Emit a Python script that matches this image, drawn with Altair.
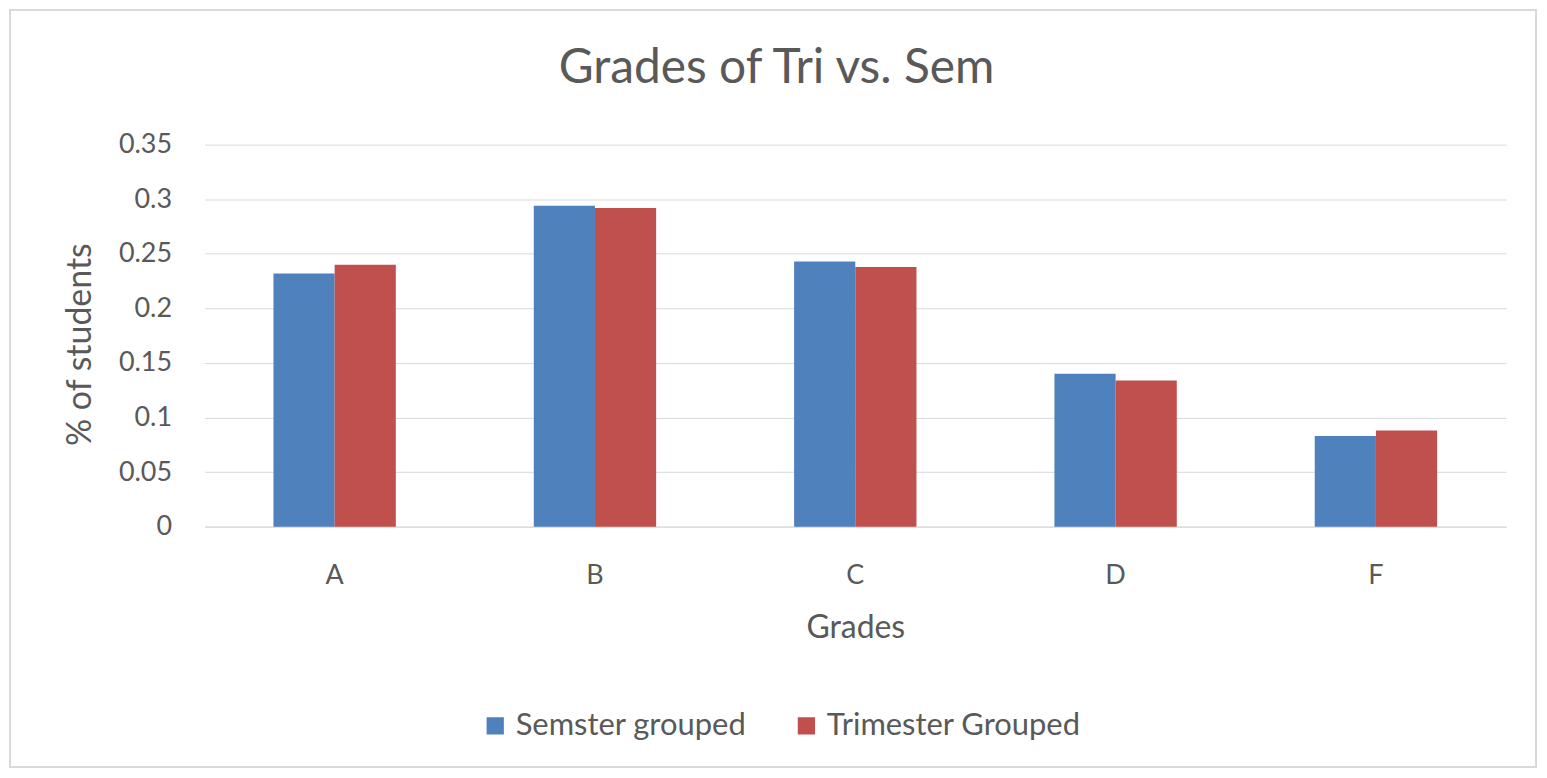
import altair as alt
import pandas as pd

grades = ["A", "B", "C", "D", "F"]
series_names = ["Semster grouped", "Trimester Grouped"]
semester = [0.232, 0.294, 0.243, 0.140, 0.083]
trimester = [0.240, 0.292, 0.238, 0.134, 0.088]
y_ticks = [0, 0.05, 0.1, 0.15, 0.2, 0.25, 0.3, 0.35]
colors = ["#4F81BD", "#C0504D"]

rows = []
for g, s, t in zip(grades, semester, trimester):
    rows.append({"Grade": g, "Series": series_names[0], "Value": s})
    rows.append({"Grade": g, "Series": series_names[1], "Value": t})
df = pd.DataFrame(rows)

W, H = 1305, 383
FONT = "Lato"
TXT = "#595959"

bars = alt.Chart(df).mark_bar().encode(
    x=alt.X("Grade:N", sort=grades,
            scale=alt.Scale(paddingInner=0.53, paddingOuter=0.265),
            axis=alt.Axis(title="Grades", labelAngle=0, ticks=False,
                          domainColor="#D9D9D9", labelPadding=36,
                          labelFontSize=27, labelColor=TXT,
                          titleFontSize=32, titleColor=TXT, titleFontWeight="normal",
                          titleY=101, titleBaseline="middle")),
    xOffset=alt.XOffset("Series:N", sort=series_names),
    y=alt.Y("Value:Q", scale=alt.Scale(domain=[0, 0.35]),
            axis=alt.Axis(title="% of students", values=y_ticks, format=".2~f",
                          ticks=False, domain=False, gridColor="#D9D9D9",
                          labelPadding=33, labelFontSize=27, labelColor=TXT,
                          titleFontSize=34, titleColor=TXT, titleFontWeight="normal",
                          titleX=-124, titleY=200, titleAngle=-90,
                          titleAlign="center", titleBaseline="middle")),
    color=alt.Color("Series:N", sort=series_names,
                    scale=alt.Scale(domain=series_names, range=colors),
                    legend=alt.Legend(title=None, orient="none", direction="horizontal",
                                      legendX=276, legendY=567,
                                      symbolType="square", symbolSize=300,
                                      symbolStrokeWidth=0, labelFontSize=31,
                                      labelColor=TXT, columnPadding=44,
                                      labelOffset=5, labelLimit=0)),
)

frame = alt.Chart(pd.DataFrame({"f": [0]})).mark_rect(
    fill="white", fillOpacity=0, stroke="#D9D9D9", strokeWidth=2
).encode(
    x=alt.value(-195), x2=alt.value(1335), y=alt.value(-135), y2=alt.value(624)
)

chart = alt.layer(frame, bars).properties(
    width=W, height=H,
    title=alt.TitleParams("Grades of Tri vs. Sem", fontSize=48, color=TXT,
                          fontWeight="normal", anchor="middle", dx=-79, offset=-84),
    autosize=alt.AutoSizeParams(type="none"),
    padding={"left": 197, "top": 136, "right": 33, "bottom": 243},
).configure(font=FONT).configure_view(stroke=None)

chart.save("out.html", embed_options={"renderer": "svg", "actions": False})
